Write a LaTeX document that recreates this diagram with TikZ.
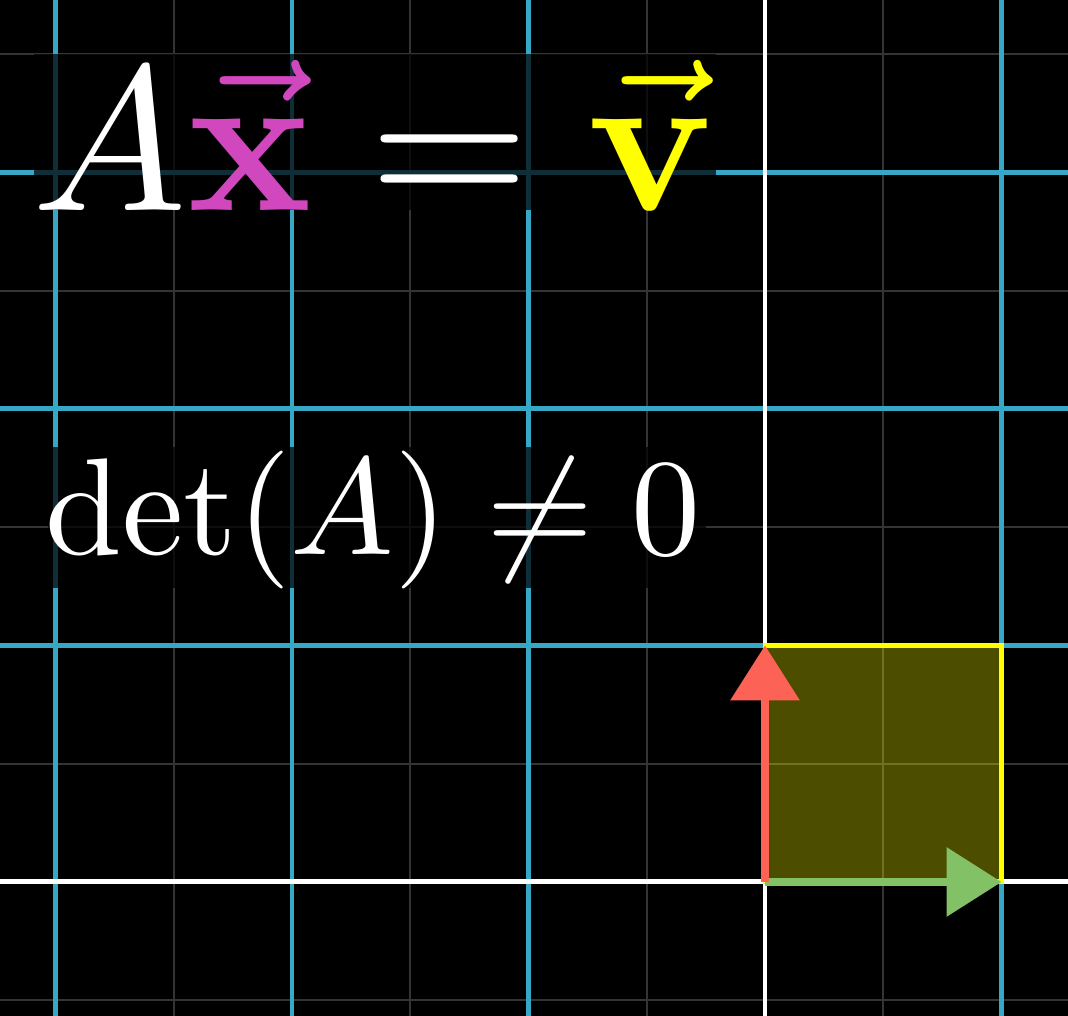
\documentclass[tikz,border=0pt]{standalone}
\usepackage{amsmath}
\usepackage{graphicx}
\usetikzlibrary{arrows.meta}
\definecolor{gridblue}{RGB}{54,168,198}
\definecolor{faint}{RGB}{52,52,52}
\definecolor{xpink}{HTML}{D147BD}
\definecolor{vyellow}{HTML}{FFFF00}
\definecolor{ired}{HTML}{FC6255}
\definecolor{jgreen}{HTML}{83C167}
\tikzset{
  majorline/.style={draw=gridblue, line width=1.2pt},
  minorline/.style={draw=faint, line width=0.5pt},
  axisline/.style={draw=white, line width=1.2pt},
  dimbox/.style={fill=black, fill opacity=0.72, draw=none},
  basisvec/.style={line width=1.7pt, -{Triangle[width=0.575cm,length=0.465cm]}},
  bigtext/.style={text=white, inner sep=0pt, anchor=base west}
}
\begin{document}
\begin{tikzpicture}[x=2cm,y=2cm]
\useasboundingbox (-3.2347,-0.5666) rectangle (1.2812,3.7294);
\fill[black] (-3.2347,-0.5666) rectangle (1.2812,3.7294);
% minor grid lines
\foreach \x in {-2.5,-1.5,-0.5,0.5}
  \draw[minorline] (\x,-0.5666) -- (\x,3.7294);
\foreach \y in {-0.5,0.5,1.5,2.5,3.5}
  \draw[minorline] (-3.2347,\y) -- (1.2812,\y);
% major grid lines
\foreach \x in {-3,-2,-1,1}
  \draw[majorline] (\x,-0.5666) -- (\x,3.7294);
\foreach \y in {1,2,3}
  \draw[majorline] (-3.2347,\y) -- (1.2812,\y);
% axes
\draw[axisline] (0,-0.5666) -- (0,3.7294);
\draw[axisline] (-3.2347,0) -- (1.2812,0);
% background rectangles behind the formulas
\fill[dimbox] (-3.091,2.841) rectangle (-0.207,3.501);
\fill[dimbox] (-3.03,1.243) rectangle (-0.25,1.839);
% formulas
\node[bigtext] (eq) at (-3.10,2.841)
  {\scalebox{4.96}{$A{\color{xpink}\vec{\mathbf{x}}} = {\color{vyellow}\vec{\mathbf{v}}}$}};
\node[bigtext] (det) at (-3.045,1.383)
  {\scalebox{3.32}{$\det(A) \neq 0$}};
% unit square
\coordinate (O) at (0,0);
\coordinate (E1) at (1,0);
\coordinate (E2) at (0,1);
\coordinate (E12) at (1,1);
\filldraw[fill=vyellow, fill opacity=0.3, draw=vyellow, line width=1.2pt]
  (O) -- (E1) -- (E12) -- (E2) -- cycle;
% basis vectors
\draw[basisvec, draw=jgreen, fill=jgreen] (O) -- (E1);
\draw[basisvec, draw=ired, fill=ired] (O) -- (E2);
\end{tikzpicture}
\end{document}
